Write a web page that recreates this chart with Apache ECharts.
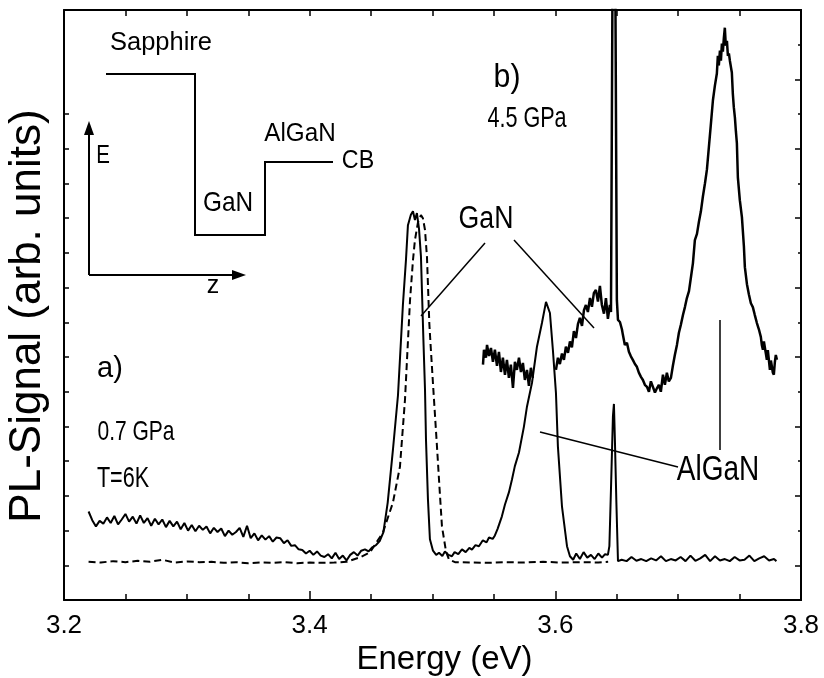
<!DOCTYPE html>
<html>
<head>
<meta charset="utf-8">
<title>PL spectra</title>
<script src="https://cdn.jsdelivr.net/npm/echarts@6/dist/echarts.min.js"></script>
<style>
  html, body { margin: 0; background: #fff; }
  #chart { width: 824px; height: 678px; }
</style>
</head>
<body>
<div id="chart"></div>
<script>
// energy axis (eV) and signal axis (arb. units, 0 = baseline tick)
const energyRange = [3.2, 3.8];
const signalRange = [-1, 16];
const leftTicks = [0, 1, 2, 3, 4, 5, 6, 7, 8, 9, 10, 11, 12, 13];
const rightLongTicks = [0, 2, 4, 6, 8, 10, 12, 14];
const rightShortTicks = [1, 3, 5, 7, 9, 11, 13, 15];

// a) 0.7 GPa, solid
const spec07E = [
  3.220, 3.223, 3.226, 3.229, 3.232, 3.235, 3.238, 3.241, 3.244, 3.247,
  3.250, 3.253, 3.256, 3.259, 3.262, 3.265, 3.268, 3.271, 3.274, 3.277,
  3.280, 3.283, 3.286, 3.289, 3.292, 3.295, 3.298, 3.301, 3.304, 3.307,
  3.310, 3.313, 3.316, 3.319, 3.322, 3.325, 3.328, 3.331, 3.334, 3.337,
  3.340, 3.343, 3.346, 3.349, 3.352, 3.355, 3.358, 3.361, 3.364, 3.367,
  3.370, 3.373, 3.376, 3.379, 3.382, 3.385, 3.388, 3.391, 3.394, 3.397,
  3.400, 3.403, 3.406, 3.409, 3.412, 3.415, 3.418, 3.421, 3.424, 3.427,
  3.430, 3.433, 3.436, 3.439, 3.442, 3.445, 3.448, 3.451, 3.454, 3.457,
  3.460, 3.4635, 3.4678, 3.4719, 3.4759, 3.4784, 3.4800, 3.4824, 3.4841, 3.4857,
  3.4873, 3.4890, 3.4906, 3.4914, 3.4926, 3.4939, 3.4947, 3.4963, 3.4979, 3.5004,
  3.503, 3.5053, 3.508, 3.5101, 3.513, 3.5158, 3.518, 3.521, 3.524, 3.527,
  3.530, 3.5321, 3.535, 3.5378, 3.541, 3.544, 3.546, 3.549, 3.5508, 3.553,
  3.5565, 3.559, 3.5622, 3.5647, 3.567, 3.5704, 3.5744, 3.5769, 3.5810, 3.5850,
  3.5891, 3.5924, 3.5956, 3.5980, 3.6005, 3.6021, 3.6054, 3.6095, 3.6119, 3.6145,
  3.617, 3.620, 3.623, 3.626, 3.629, 3.632, 3.635, 3.638, 3.6405, 3.6428,
  3.6440, 3.6453, 3.6469, 3.6477, 3.6485, 3.6497, 3.6510, 3.654, 3.658, 3.662,
  3.666, 3.670, 3.674, 3.678, 3.682, 3.686, 3.690, 3.694, 3.698, 3.702,
  3.706, 3.710, 3.714, 3.718, 3.722, 3.726, 3.730, 3.734, 3.738, 3.742,
  3.746, 3.750, 3.754, 3.758, 3.762, 3.766, 3.770, 3.774, 3.778, 3.780
];
const spec07S = [
  1.55, 1.30, 1.12, 1.28, 1.20, 1.38, 1.22, 1.42, 1.18, 1.32,
  1.48, 1.26, 1.40, 1.20, 1.44, 1.22, 1.36, 1.14, 1.34, 1.18,
  1.32, 1.10, 1.28, 1.12, 1.26, 1.04, 1.22, 1.00, 1.16, 0.98,
  1.14, 1.02, 1.12, 0.92, 1.08, 0.96, 1.06, 0.84, 1.00, 0.88,
  0.96, 1.08, 0.82, 1.14, 0.78, 0.92, 0.72, 0.86, 0.74, 0.84,
  0.68, 0.80, 0.78, 0.64, 0.72, 0.56, 0.58, 0.46, 0.44, 0.34,
  0.42, 0.30, 0.40, 0.28, 0.24, 0.32, 0.20, 0.36, 0.18, 0.28,
  0.14, 0.30, 0.38, 0.28, 0.42, 0.46, 0.40, 0.52, 0.58, 0.70,
  0.95, 1.80, 3.33, 4.90, 7.50, 8.80, 9.80, 10.10, 10.20, 9.95,
  10.15, 9.70, 8.90, 7.93, 6.49, 5.06, 3.62, 1.90, 0.75, 0.42,
  0.30, 0.36, 0.27, 0.40, 0.30, 0.26, 0.38, 0.32, 0.46, 0.38,
  0.50, 0.45, 0.58, 0.55, 0.72, 0.66, 0.80, 0.76, 0.86, 1.05,
  1.41, 1.75, 2.10, 2.47, 2.85, 3.25, 3.99, 4.57, 5.26, 6.29,
  6.98, 7.59, 7.27, 6.21, 4.97, 3.42, 1.70, 0.55, 0.26, 0.16,
  0.34, 0.18, 0.38, 0.22, 0.30, 0.18, 0.34, 0.22, 0.32, 0.30,
  0.55, 2.20, 4.30, 4.65, 3.60, 1.80, 0.12, 0.16, 0.12, 0.24,
  0.13, 0.18, 0.12, 0.20, 0.14, 0.26, 0.12, 0.18, 0.14, 0.24,
  0.12, 0.28, 0.13, 0.20, 0.30, 0.12, 0.26, 0.14, 0.18, 0.12,
  0.24, 0.14, 0.16, 0.28, 0.12, 0.20, 0.26, 0.14, 0.18, 0.12
];

// a) reference, dashed
const ref07E = [
  3.220, 3.230, 3.240, 3.250, 3.260, 3.270, 3.280, 3.290, 3.300, 3.310,
  3.320, 3.330, 3.340, 3.350, 3.360, 3.370, 3.380, 3.390, 3.400, 3.410,
  3.420, 3.430, 3.4410, 3.4491, 3.4597, 3.4678, 3.4735, 3.4776, 3.4817, 3.4841,
  3.4857, 3.4882, 3.4906, 3.4922, 3.4939, 3.4955, 3.4974, 3.4982, 3.5007, 3.5033,
  3.5058, 3.5077, 3.5110, 3.5134, 3.5183, 3.530, 3.545, 3.560, 3.575, 3.590,
  3.605, 3.620, 3.635, 3.643
];
const ref07S = [
  0.10, 0.08, 0.12, 0.09, 0.13, 0.10, 0.16, 0.08, 0.11, 0.09,
  0.10, 0.07, 0.09, 0.06, 0.08, 0.07, 0.09, 0.06, 0.08, 0.07,
  0.08, 0.10, 0.23, 0.37, 0.95, 1.81, 2.84, 4.77, 7.64, 8.79,
  9.37, 9.89, 10.09, 10.00, 9.66, 8.88, 6.98, 6.49, 5.06, 3.62,
  2.18, 1.12, 0.40, 0.17, 0.09, 0.08, 0.07, 0.09, 0.08, 0.10,
  0.08, 0.09, 0.08, 0.10
];

// b) 4.5 GPa, solid ('-' = gap in the record)
const spec45E = [
  3.5411, 3.5419, 3.5435, 3.5444, 3.5460, 3.5476, 3.5492, 3.5508, 3.5525, 3.5541,
  3.5557, 3.5573, 3.5590, 3.5606, 3.5622, 3.5638, 3.5655, 3.5671, 3.5687, 3.5704,
  3.5720, 3.5736, 3.5752, 3.5769, 3.5785, 3.5801, 3.5817, 3.5900, 3.6005, 3.6021,
  3.6037, 3.6054, 3.6070, 3.6086, 3.6103, 3.6119, 3.6135, 3.6151, 3.6168, 3.6184,
  3.6200, 3.6217, 3.6233, 3.6249, 3.6265, 3.6282, 3.6298, 3.6314, 3.6330, 3.6347,
  3.6363, 3.6379, 3.6396, 3.6412, 3.6428, 3.6444, 3.6453, 3.6465, 3.6489, 3.6501,
  3.6510, 3.6526, 3.6542, 3.6550, 3.6566, 3.6583, 3.6599, 3.6615, 3.6631, 3.6648,
  3.6664, 3.6680, 3.6697, 3.6713, 3.6729, 3.6746, 3.6762, 3.6778, 3.6794, 3.6811,
  3.6827, 3.6843, 3.6859, 3.6876, 3.6892, 3.6908, 3.6924, 3.6941, 3.6957, 3.6973,
  3.6990, 3.7006, 3.7022, 3.7039, 3.7055, 3.7071, 3.7088, 3.7104, 3.7120, 3.7136,
  3.7153, 3.7169, 3.7185, 3.7201, 3.7218, 3.7234, 3.7250, 3.7266, 3.7283, 3.7299,
  3.7315, 3.7323, 3.7331, 3.7340, 3.7348, 3.7356, 3.7364, 3.7372, 3.7380, 3.7388,
  3.7397, 3.7405, 3.7413, 3.7421, 3.7437, 3.7445, 3.7453, 3.7462, 3.7470, 3.7478,
  3.7486, 3.7502, 3.7519, 3.7535, 3.7543, 3.7560, 3.7576, 3.7592, 3.7608, 3.7624,
  3.7641, 3.7657, 3.7673, 3.7681, 3.7690, 3.7698, 3.7706, 3.7714, 3.7722, 3.7730,
  3.7738, 3.7747, 3.7755, 3.7763, 3.7771, 3.7779, 3.7787, 3.7795, 3.7804
];
const spec45S = [
  5.78, 6.21, 5.98, 6.35, 6.03, 6.26, 5.86, 6.21, 5.75, 6.15,
  5.57, 5.98, 5.49, 5.92, 5.40, 5.78, 5.11, 5.86, 5.63, 5.98,
  5.57, 5.83, 5.34, 5.63, 5.17, 5.69, 5.40, '-', 5.63, 5.98,
  5.80, 6.10, 5.92, 6.30, 6.12, 6.45, 6.28, 6.75, 6.55, 6.95,
  7.13, 6.90, 7.35, 7.50, 7.30, 7.70, 7.45, 7.85, 7.93, 7.60,
  8.05, 7.50, 7.25, 7.70, 7.10, 7.50, 7.30, 16.5, 16.5, 7.64,
  7.07, 7.01, 6.80, 6.64, 6.35, 6.41, 6.15, 6.02, 5.92, 5.80,
  5.72, 5.55, 5.43, 5.34, 5.20, 5.14, 5.00, 5.30, 5.34, 4.98,
  5.10, 5.20, 5.00, 5.49, 5.20, 5.55, 5.30, 5.40, 5.75, 6.06,
  6.35, 6.70, 6.93, 7.21, 7.44, 7.70, 7.90, 8.30, 8.70, 9.37,
  9.55, 9.90, 10.20, 10.62, 11.00, 11.40, 12.05, 12.70, 13.40, 13.82,
  14.17, 14.68, 14.40, 14.83, 14.54, 15.03, 14.80, 15.20, 15.49, 14.97,
  15.11, 14.68, 14.75, 14.54, 14.20, 13.59, 13.20, 12.90, 12.50, 12.16,
  11.18, 10.52, 10.03, 9.20, 8.59, 8.10, 7.80, 7.55, 7.44, 7.21,
  6.98, 6.80, 6.58, 6.35, 6.21, 6.45, 6.49, 6.10, 5.92, 6.20,
  6.21, 5.63, 5.90, 5.92, 5.55, 5.49, 5.85, 6.06, 5.92
];

const ink = '#000';
const sans = '"Liberation Sans", Arial, sans-serif';

const pairs = (xs, ys) => xs.map((x, i) => [x, ys[i]]);

function label(text, x, y, size, sx) {
  return {
    type: 'text', x: x, y: y, scaleX: sx, z: 10,
    style: {
      text: text, font: size + 'px ' + sans, fill: ink,
      align: 'center', verticalAlign: 'middle',
      textAlign: 'center', textVerticalAlign: 'middle'
    }
  };
}
function line(points, w) {
  return { type: 'polyline', z: 10, shape: { points: points }, style: { stroke: ink, lineWidth: w, fill: null } };
}
function head(points) {
  return { type: 'polygon', z: 10, shape: { points: points }, style: { fill: ink } };
}

const chart = echarts.init(document.getElementById('chart'), null, { renderer: 'canvas' });

const frame = { show: true, onZero: false, lineStyle: { color: ink, width: 2 } };

const yBase = {
  type: 'value', min: signalRange[0], max: signalRange[1], interval: 1,
  axisLine: frame,
  axisLabel: { show: false },
  splitLine: { show: false }
};

chart.setOption({
  animation: false,
  backgroundColor: '#fff',
  grid: { left: 64, right: 23, top: 10, bottom: 78, outerBoundsMode: 'none', containLabel: false },
  xAxis: [
    {
      type: 'value', position: 'bottom',
      min: energyRange[0], max: energyRange[1], interval: 0.2,
      axisLine: frame,
      axisTick: { inside: true, length: 9, lineStyle: { color: ink, width: 1.5 } },
      minorTick: { show: true, splitNumber: 4, length: 6, lineStyle: { color: ink, width: 1.5 } },
      axisLabel: { color: ink, fontSize: 26, fontFamily: sans, margin: 13,
        formatter: v => v.toFixed(1) },
      splitLine: { show: false },
      name: 'Energy (eV)', nameLocation: 'middle', nameGap: 39,
      nameTextStyle: { color: ink, fontSize: 33, fontFamily: sans, padding: [0, 0, 0, 24] }
    },
    {
      type: 'value', position: 'top',
      min: energyRange[0], max: energyRange[1], interval: 0.05,
      axisLine: frame,
      axisTick: { inside: true, length: 6, lineStyle: { color: ink, width: 1.5 } },
      axisLabel: { show: false },
      splitLine: { show: false }
    }
  ],
  yAxis: [
    Object.assign({}, yBase, {
      position: 'left',
      axisTick: { inside: true, length: 5, customValues: leftTicks, lineStyle: { color: ink, width: 1.5 } },
      name: 'PL-Signal (arb. units)', nameLocation: 'middle', nameGap: 14, nameRotate: 90,
      nameTextStyle: { color: ink, fontSize: 44, fontFamily: sans, padding: [0, 22, 0, 0] }
    }),
    Object.assign({}, yBase, {
      position: 'right',
      axisTick: { inside: true, length: 6, customValues: rightLongTicks, lineStyle: { color: ink, width: 1.5 } }
    }),
    Object.assign({}, yBase, {
      position: 'right',
      axisTick: { inside: true, length: 3, customValues: rightShortTicks, lineStyle: { color: ink, width: 1.5 } }
    })
  ],
  series: [
    {
      name: 'ref 0.7 GPa', type: 'line', data: pairs(ref07E, ref07S),
      symbol: 'none', lineStyle: { color: ink, width: 2, type: [7, 4] }
    },
    {
      name: '0.7 GPa', type: 'line', data: pairs(spec07E, spec07S),
      symbol: 'none', lineStyle: { color: ink, width: 2 }
    },
    {
      name: '4.5 GPa', type: 'line', data: pairs(spec45E, spec45S),
      symbol: 'none', connectNulls: false, lineStyle: { color: ink, width: 2.5 }
    }
  ],
  graphic: [
    // inset: band scheme
    line([[106, 74], [195, 74], [195, 235], [265, 235], [265, 162], [333, 162]], 2),
    line([[89, 275], [89, 132]], 2),
    head([[89, 121], [84, 135], [94, 135]]),
    line([[89, 275], [234, 275]], 2),
    head([[246, 275], [232, 270], [232, 280]]),
    label('Sapphire', 161, 43, 25, 1.02),
    label('E', 103, 156, 25, 0.82),
    label('GaN', 228, 203, 28, 0.87),
    label('AlGaN', 300, 134, 25, 0.97),
    label('CB', 358, 161, 25, 0.93),
    label('z', 213, 286, 25, 1),
    // panel labels
    label('a)', 110, 369, 29, 1.0),
    label('0.7 GPa', 136, 432, 28, 0.75),
    label('T=6K', 123, 479, 30, 0.72),
    label('b)', 507, 78, 34, 0.89),
    label('4.5 GPa', 527, 119, 30, 0.72),
    // peak annotations
    label('GaN', 486, 219, 31, 0.86),
    line([[485, 243], [421, 316]], 1.5),
    line([[514, 240], [594, 328]], 1.5),
    label('AlGaN', 718, 470, 35, 0.80),
    line([[540, 432], [678, 467]], 1.5),
    line([[720, 320], [720, 450]], 1.5)
  ]
});
</script>
</body>
</html>
